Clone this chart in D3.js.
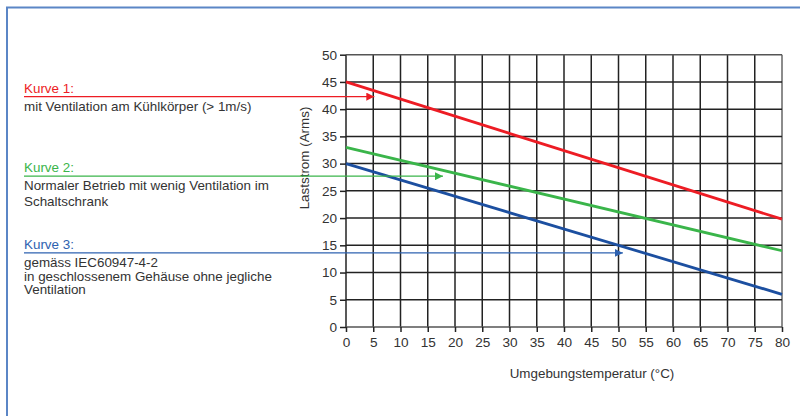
<!DOCTYPE html>
<html>
<head>
<meta charset="utf-8">
<script src="https://cdn.jsdelivr.net/npm/d3@7"></script>
<style>
  body { margin: 0; background: #fff; }
  svg { display: block; font-family: "Liberation Sans", Arial, sans-serif; }
</style>
</head>
<body>
<svg class="chart" width="800" height="416"></svg>
<script>
// data
var temps = [0, 80];
var kurve1 = [45, 19.8];
var kurve2 = [33, 14];
var kurve3 = [30, 6];
var xTicks = d3.range(0, 81, 5);
var yTicks = d3.range(0, 51, 5);

// arrow tips (temperature, current) where the legend arrows point to
var arrowTips = [[5.2, 42.3], [17.8, 27.7], [50.8, 13.6]];

var legendTitles = ["Kurve 1:", "Kurve 2:", "Kurve 3:"];
var legendTexts = [
  ["mit Ventilation am Kühlkörper (> 1m/s)"],
  ["Normaler Betrieb mit wenig Ventilation im", "Schaltschrank"],
  ["gemäss IEC60947-4-2", "in geschlossenem Gehäuse ohne jegliche", "Ventilation"]
];

var lineColors = ["#ed1c24", "#3ab54a", "#1c4fa0"];
var textColors = ["#ed1c24", "#3ab54a", "#2e62b0"];

var chart = d3.select("svg.chart");
var xScale = d3.scaleLinear().domain([0, 80]).range([346, 782]);
var yScale = d3.scaleLinear().domain([0, 50]).range([327, 54.7]);
var fs = 13.4;

// outer frame
chart.append("rect")
  .attr("x", 7).attr("y", 7.5)
  .attr("width", 800).attr("height", 420)
  .attr("fill", "none")
  .attr("stroke", "#5b86c6")
  .attr("stroke-width", 2);

// grid
var grid = chart.append("g");
grid.selectAll("line.v").data(xTicks).enter().append("line")
  .attr("x1", function(d) { return xScale(d); })
  .attr("x2", function(d) { return xScale(d); })
  .attr("y1", yScale(50)).attr("y2", yScale(0))
  .attr("stroke", function(d) { return d === 80 ? "#666" : "#222"; })
  .attr("stroke-width", 1.5);
grid.selectAll("line.h").data(yTicks).enter().append("line")
  .attr("x1", xScale(0)).attr("x2", xScale(80))
  .attr("y1", function(d) { return yScale(d); })
  .attr("y2", function(d) { return yScale(d); })
  .attr("stroke", function(d) { return (d === 50 || d === 0) ? "#555" : "#222"; })
  .attr("stroke-width", 1.5);

// axes
var xAxis = d3.axisBottom(xScale).tickValues(xTicks).tickSize(5).tickPadding(5);
var yAxis = d3.axisLeft(yScale).tickValues(yTicks).tickSize(6).tickPadding(3);

chart.append("g").attr("id", "xAxisG")
  .attr("transform", "translate(0," + yScale(0) + ")")
  .call(xAxis);
chart.append("g").attr("id", "yAxisG")
  .attr("transform", "translate(" + xScale(0) + ",0)")
  .call(yAxis);

chart.selectAll("#xAxisG, #yAxisG").selectAll(".domain").remove();
chart.selectAll("#xAxisG line, #yAxisG line").attr("stroke", "#222").attr("stroke-width", 1.5);
chart.selectAll("#xAxisG text, #yAxisG text")
  .attr("font-size", 13.6).attr("fill", "#333")
  .attr("font-family", "Liberation Sans, Arial, sans-serif");

// axis titles
chart.append("text")
  .attr("x", xScale(40) + 28).attr("y", 378)
  .attr("text-anchor", "middle")
  .attr("font-size", fs).attr("fill", "#333")
  .text("Umgebungstemperatur (°C)");
chart.append("text")
  .attr("transform", "translate(309,158) rotate(-90)")
  .attr("text-anchor", "middle")
  .attr("font-size", fs).attr("fill", "#333")
  .text("Laststrom (Arms)");

// curves
var line = d3.line()
  .x(function(d) { return xScale(d[0]); })
  .y(function(d) { return yScale(d[1]); });
[kurve1, kurve2, kurve3].forEach(function(vals, i) {
  var pts = temps.map(function(t, j) { return [t, vals[j]]; });
  chart.append("path")
    .attr("d", line(pts))
    .attr("fill", "none")
    .attr("stroke", lineColors[i])
    .attr("stroke-width", 2.8);
});

// arrow heads
var defs = chart.append("defs");
textColors.forEach(function(c, i) {
  defs.append("marker")
    .attr("id", "arr" + i)
    .attr("viewBox", "0 0 10 10")
    .attr("refX", 10).attr("refY", 5)
    .attr("markerWidth", 8).attr("markerHeight", 8)
    .attr("markerUnits", "userSpaceOnUse")
    .attr("orient", "auto")
    .append("path").attr("d", "M0,0L10,5L0,10Z").attr("fill", c);
});

// legend text + arrows
var titleY = [93, 172, 249];
var lineH = [[18], [18, 16], [18, 13.5, 13.5]];
legendTitles.forEach(function(t, i) {
  chart.append("line")
    .attr("x1", 24).attr("x2", xScale(arrowTips[i][0]))
    .attr("y1", yScale(arrowTips[i][1])).attr("y2", yScale(arrowTips[i][1]))
    .attr("stroke", textColors[i])
    .attr("stroke-width", 1.2)
    .attr("marker-end", "url(#arr" + i + ")");
  chart.append("text")
    .attr("x", 24).attr("y", titleY[i])
    .attr("font-size", fs).attr("fill", textColors[i])
    .text(t);
  var y = titleY[i];
  legendTexts[i].forEach(function(s, k) {
    y += lineH[i][k];
    chart.append("text")
      .attr("x", 24).attr("y", y)
      .attr("font-size", fs).attr("fill", "#333")
      .text(s);
  });
});
</script>
</body>
</html>
